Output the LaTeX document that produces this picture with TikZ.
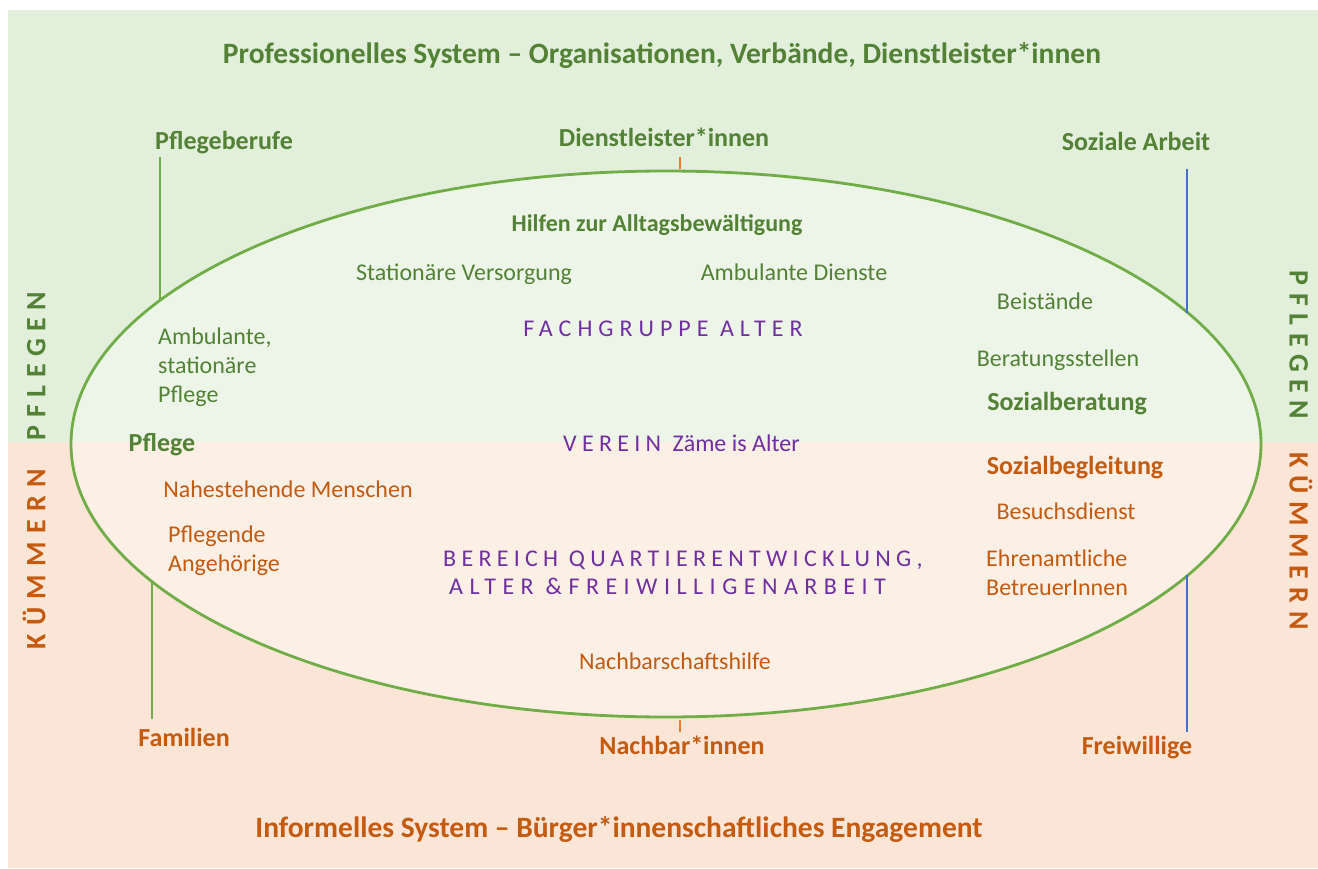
\documentclass[tikz,border=0pt]{standalone}
\usepackage{fontspec}
\setmainfont{Carlito}
\usepackage{xcolor}
\usepackage{tikz}
\usetikzlibrary{shapes.geometric}
\definecolor{bggreen}{HTML}{E2EFDA}
\definecolor{bgorange}{HTML}{FBE5D6}
\definecolor{txtgreen}{HTML}{538135}
\definecolor{txtorange}{HTML}{C55A11}
\definecolor{txtpurple}{HTML}{7030A0}
\definecolor{linegreen}{HTML}{70AD47}
\definecolor{lineblue}{HTML}{4472C4}
\definecolor{lineorange}{HTML}{ED7D31}
\tikzset{
  ttl/.style={inner sep=0,anchor=base,font=\fontsize{29.5}{34}\selectfont\bfseries},
  head/.style={inner sep=0,anchor=base,font=\fontsize{26}{30}\selectfont\bfseries},
  item/.style={inner sep=0,anchor=base,font=\fontsize{24}{29}\selectfont},
  grp/.style={inner sep=0,anchor=base,text=txtpurple,font=\fontsize{24}{29}\selectfont\addfontfeature{LetterSpace=#1}},
  side/.style={inner sep=0,text height=0.68em,text depth=0.2em,font=\fontsize{28}{32}\selectfont\bfseries\addfontfeature{LetterSpace=#1}},
}

\begin{document}
\begin{tikzpicture}[x=1pt,y=-1pt]
\useasboundingbox (0,0) rectangle (1318,869);
\fill[bggreen]  (8,10)  rectangle (1318,442);
\fill[bgorange] (8,442) rectangle (1318,868);

\node (ring) at (666,444) [ellipse,draw=linegreen,line width=2.8,fill=white,fill opacity=0.4,
  minimum width=1190,minimum height=546,inner sep=0] {};

% top and bottom titles
\node (prof) at (662,64)  [ttl,text=txtgreen]  {Professionelles System – Organisationen, Verbände, Dienstleister*innen};
\node (info) at (619,837) [ttl,text=txtorange] {Informelles System – Bürger*innenschaftliches Engagement};

\node (pb) at (224,150)  [head,text=txtgreen]  {Pflegeberufe};
\node (dl) at (664,147)  [head,text=txtgreen]  {Dienstleister*innen};
\node (sa) at (1136,151) [head,text=txtgreen]  {Soziale Arbeit};
\node (fa) at (184,746)  [head,text=txtorange] {Familien};
\node (nb) at (682,754)  [head,text=txtorange] {Nachbar*innen};
\node (fw) at (1137,754) [head,text=txtorange] {Freiwillige};

\coordinate (pbtop) at (160,157);
\coordinate (fabot) at (152,719);
\coordinate (satop) at (1187,169);
\coordinate (fwbot) at (1187,732);
\coordinate (dltick) at (680,157);
\coordinate (nbtick) at (680,720);

\draw[linegreen,line width=1.5] (pbtop) -- (pbtop |- ring.164.1);
\draw[linegreen,line width=1.5] (fabot) -- (fabot |- ring.195);
\draw[lineblue,line width=1.5]  (satop) -- (satop |- ring.14.2);
\draw[lineblue,line width=1.5]  (fwbot) -- (fwbot |- ring.-14.2);
\draw[lineorange,line width=1.5] (dltick) -- ++(0,12);
\draw[lineorange,line width=1.5] (nbtick) -- ++(0,12);

% inside the ellipse
\node (hilf) at (657,232)  [item,font=\fontsize{24}{29}\selectfont\bfseries,text=txtgreen] {Hilfen zur Alltagsbewältigung};
\node (stat) at (464,281)  [item,text=txtgreen] {Stationäre Versorgung};
\node (ambd) at (794,281)  [item,text=txtgreen] {Ambulante Dienste};
\node (beis) at (1045,309) [item,text=txtgreen] {Beistände};
\node (bera) at (1058,366) [item,text=txtgreen] {Beratungsstellen};
\node (sozb) at (1067,410) [head,text=txtgreen] {Sozialberatung};
\node (amb1) at (158,344)   [item,anchor=base west,text=txtgreen] {Ambulante,};
\node (amb2) at (158,373.3) [item,anchor=base west,text=txtgreen] {stationäre};
\node (amb3) at (158,402.7) [item,anchor=base west,text=txtgreen] {Pflege};
\node (pfl)  at (162,451)  [head,text=txtgreen] {Pflege};

\node (fach) at (663,337) [grp=25] {FACHGRUPPE ALTER};
\node (ver)  at (563,451) [item,anchor=base west,text=txtpurple]
  {{\addfontfeature{LetterSpace=22}VEREIN}\hspace{6pt} Zäme is Alter};
\node (quar1) at (443,566) [grp=22,anchor=base west] {BEREICH QUARTIERENTWICKLUNG,};
\node (quar2) at (449,594) [grp=27,anchor=base west] {ALTER \&FREIWILLIGENARBEIT};

\node (sbeg) at (1075,474) [head,text=txtorange] {Sozialbegleitung};
\node (nahe) at (288,497)  [item,text=txtorange] {Nahestehende Menschen};
\node (besu) at (1066,519) [item,text=txtorange] {Besuchsdienst};
\node (pang1) at (168,542) [item,anchor=base west,text=txtorange] {Pflegende};
\node (pang2) at (168,571) [item,anchor=base west,text=txtorange] {Angehörige};
\node (ehre1) at (986,566) [item,anchor=base west,text=txtorange] {Ehrenamtliche};
\node (ehre2) at (986,595) [item,anchor=base west,text=txtorange] {BetreuerInnen};
\node (nach) at (675,669)  [item,text=txtorange] {Nachbarschaftshilfe};

% side labels
\node (lpf) at (43,366)   [side=27,rotate=90,text=txtgreen]   {PFLEGEN};
\node (lku) at (43,559)   [side=30,rotate=90,text=txtorange]  {KÜMMERN};
\node (rpf) at (1292,345) [side=27,rotate=-90,text=txtgreen]  {PFLEGEN};
\node (rku) at (1292,541) [side=28,rotate=-90,text=txtorange] {KÜMMERN};
\end{tikzpicture}
\end{document}
